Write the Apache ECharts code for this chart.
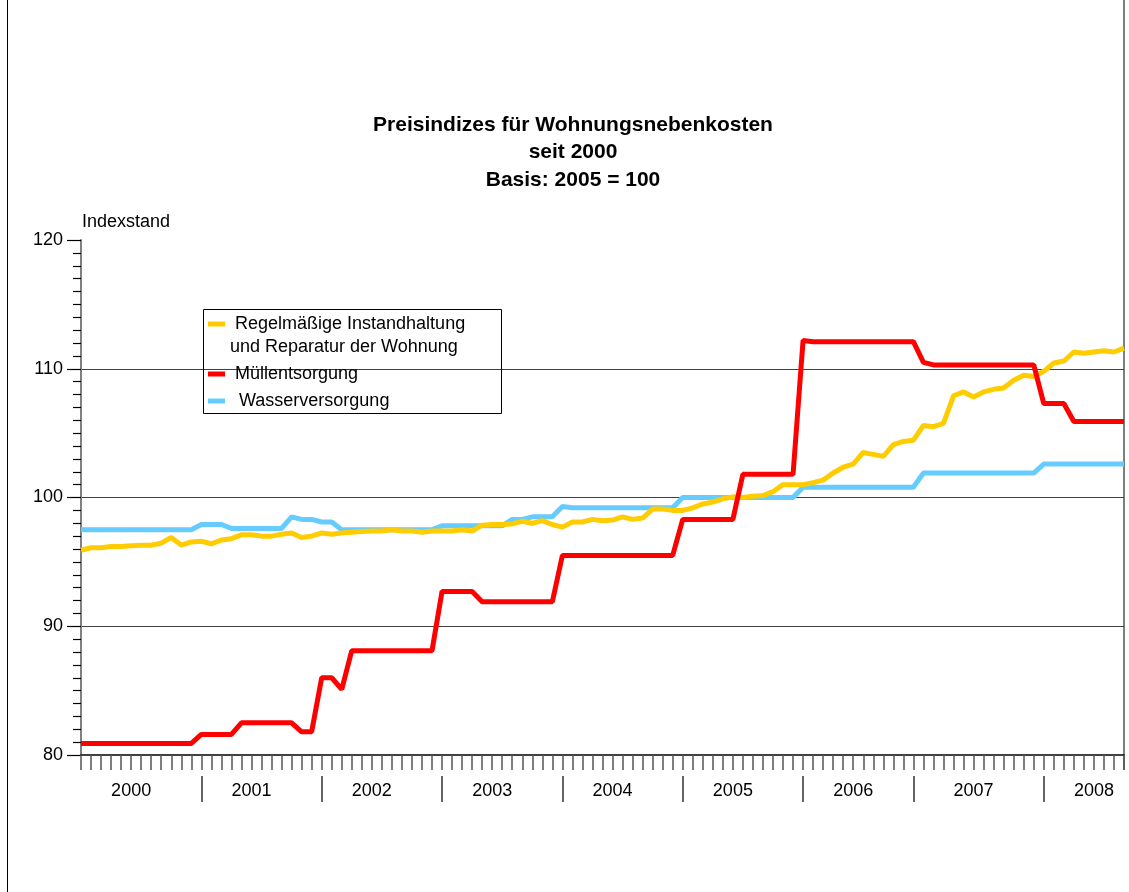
<!DOCTYPE html>
<html>
<head>
<meta charset="utf-8">
<script src="https://cdn.jsdelivr.net/npm/echarts@6/dist/echarts.min.js"></script>
<style>
  html, body { margin: 0; padding: 0; background: #fff; }
  #chart { width: 1129px; height: 892px; }
</style>
</head>
<body>
<div id="chart"></div>
<script>
"use strict";

const years = ['2000', '2001', '2002', '2003', '2004', '2005', '2006', '2007', '2008'];
const monthsInLast = 9;

// index of month where a year separator line is drawn (as in the original)
const yearSepIdx = [12, 24, 36, 48, 60, 72, 83, 96];

const yTicks = [80, 90, 100, 110, 120];

const seriesNames = [
    'Regelmäßige Instandhaltung und Reparatur der Wohnung',
    'Müllentsorgung',
    'Wasserversorgung'
];

const instandhaltung = [
    95.9, 96.1, 96.1, 96.2, 96.2, 96.25, 96.3, 96.3, 96.45, 96.9, 96.3, 96.55,
    96.6, 96.4, 96.7, 96.8, 97.1, 97.1, 97.0, 97.0, 97.15, 97.25, 96.9, 97.0,
    97.25, 97.15, 97.25, 97.3, 97.35, 97.4, 97.4, 97.5, 97.4, 97.4, 97.3, 97.4,
    97.4, 97.4, 97.5, 97.4, 97.85, 97.9, 97.9, 97.95, 98.15, 98.0, 98.2, 97.9,
    97.7, 98.1, 98.1, 98.3, 98.2, 98.25, 98.5, 98.3, 98.4, 99.1, 99.1, 99.0,
    99.0, 99.2, 99.5, 99.65, 99.9, 100.05, 100.0, 100.1, 100.15, 100.45, 101.0, 101.0,
    101.0, 101.15, 101.35, 101.9, 102.35, 102.6, 103.5, 103.35, 103.2, 104.1, 104.35, 104.45,
    105.6, 105.5, 105.75, 107.9, 108.2, 107.8, 108.2, 108.4, 108.5, 109.1, 109.5, 109.4,
    109.8, 110.45, 110.6, 111.3, 111.2, 111.3, 111.4, 111.3, 111.6
];

const muell = [
    80.9, 80.9, 80.9, 80.9, 80.9, 80.9, 80.9, 80.9, 80.9, 80.9, 80.9, 80.9,
    81.6, 81.6, 81.6, 81.6, 82.5, 82.5, 82.5, 82.5, 82.5, 82.5, 81.8, 81.8,
    86.0, 86.0, 85.1, 88.1, 88.1, 88.1, 88.1, 88.1, 88.1, 88.1, 88.1, 88.1,
    92.7, 92.7, 92.7, 92.7, 91.9, 91.9, 91.9, 91.9, 91.9, 91.9, 91.9, 91.9,
    95.5, 95.5, 95.5, 95.5, 95.5, 95.5, 95.5, 95.5, 95.5, 95.5, 95.5, 95.5,
    98.3, 98.3, 98.3, 98.3, 98.3, 98.3, 101.8, 101.8, 101.8, 101.8, 101.8, 101.8,
    112.2, 112.1, 112.1, 112.1, 112.1, 112.1, 112.1, 112.1, 112.1, 112.1, 112.1, 112.1,
    110.5, 110.3, 110.3, 110.3, 110.3, 110.3, 110.3, 110.3, 110.3, 110.3, 110.3, 110.3,
    107.3, 107.3, 107.3, 105.9, 105.9, 105.9, 105.9, 105.9, 105.9
];

const wasser = [
    97.5, 97.5, 97.5, 97.5, 97.5, 97.5, 97.5, 97.5, 97.5, 97.5, 97.5, 97.5,
    97.9, 97.9, 97.9, 97.6, 97.6, 97.6, 97.6, 97.6, 97.6, 98.5, 98.3, 98.3,
    98.1, 98.1, 97.5, 97.5, 97.5, 97.5, 97.5, 97.5, 97.5, 97.5, 97.5, 97.5,
    97.8, 97.8, 97.8, 97.8, 97.8, 97.8, 97.8, 98.3, 98.3, 98.5, 98.5, 98.5,
    99.3, 99.2, 99.2, 99.2, 99.2, 99.2, 99.2, 99.2, 99.2, 99.2, 99.2, 99.2,
    100.0, 100.0, 100.0, 100.0, 100.0, 100.0, 100.0, 100.0, 100.0, 100.0, 100.0, 100.0,
    100.8, 100.8, 100.8, 100.8, 100.8, 100.8, 100.8, 100.8, 100.8, 100.8, 100.8, 100.8,
    101.9, 101.9, 101.9, 101.9, 101.9, 101.9, 101.9, 101.9, 101.9, 101.9, 101.9, 101.9,
    102.6, 102.6, 102.6, 102.6, 102.6, 102.6, 102.6, 102.6, 102.6
];

const months = [];
years.forEach((y, yi) => {
    const n = yi === years.length - 1 ? monthsInLast : 12;
    for (let m = 1; m <= n; m++) months.push(y + '-' + (m < 10 ? '0' + m : m));
});

const chart = echarts.init(document.getElementById('chart'), null, { renderer: 'canvas' });
const font = 'Liberation Sans, Arial, sans-serif';

const option = {
    animation: false,
    backgroundColor: '#fff',
    textStyle: { fontFamily: font, color: '#000' },
    title: {
        text: 'Preisindizes für Wohnungsnebenkosten\nseit 2000\nBasis: 2005 = 100',
        left: 568,
        top: 106,
        textAlign: 'center',
        textStyle: { fontSize: 21, fontWeight: 'bold', lineHeight: 27.5, fontFamily: font, color: '#000' }
    },
    legend: {
        orient: 'vertical',
        left: 208,
        top: 289.5,
        padding: 0,
        itemGap: 4,
        itemWidth: 17,
        itemHeight: 5,
        icon: 'rect',
        data: [
            { name: seriesNames[0], textStyle: { padding: [23, 0, 0, 0] } },
            { name: seriesNames[1], textStyle: { padding: [0, 0, 0, 5] } },
            { name: seriesNames[2], textStyle: { padding: [0, 0, 0, 9] } }
        ],
        formatter: name => name === seriesNames[0]
            ? '{a|Regelmäßige Instandhaltung}\n{b|und Reparatur der Wohnung}'
            : name,
        textStyle: {
            fontSize: 18, lineHeight: 23, color: '#000', fontFamily: font,
            rich: {
                a: { fontSize: 18, lineHeight: 23, padding: [0, 0, 0, 5], fontFamily: font },
                b: { fontSize: 18, lineHeight: 23, fontFamily: font }
            }
        }
    },
    grid: { left: 81, right: 5, top: 240, bottom: 137, containLabel: false },
    xAxis: [
        {
            type: 'category',
            data: months,
            boundaryGap: false,
            axisLine: { lineStyle: { color: '#000', width: 1.5 } },
            axisTick: { interval: 0, length: 15, lineStyle: { color: '#555', width: 1.5 } },
            axisLabel: { show: false },
            splitLine: { show: false }
        },
        {
            type: 'category',
            data: months,
            boundaryGap: false,
            position: 'bottom',
            offset: 21,
            axisLine: { show: false },
            axisTick: {
                interval: (i) => yearSepIdx.includes(i),
                length: 26,
                lineStyle: { color: '#333', width: 1.5 }
            },
            axisLabel: {
                interval: (i) => i % 12 === 5,
                formatter: v => v.slice(0, 4),
                fontSize: 18,
                margin: 6,
                color: '#000',
                fontFamily: font
            },
            splitLine: { show: false }
        }
    ],
    yAxis: {
        type: 'value',
        min: yTicks[0],
        max: yTicks[yTicks.length - 1],
        interval: 10,
        name: 'Indexstand',
        nameLocation: 'end',
        nameGap: 18,
        nameTextStyle: { fontSize: 18, align: 'left', verticalAlign: 'middle', color: '#000', fontFamily: font, padding: [0, 0, 0, 1] },
        axisLine: { show: true, lineStyle: { color: '#808080', width: 2 } },
        axisTick: { show: true, length: 14, lineStyle: { color: '#000', width: 1.2 } },
        minorTick: { show: true, splitNumber: 10, length: 8, lineStyle: { color: '#000', width: 1.2 } },
        splitLine: {
            show: true,
            showMinLine: false,
            showMaxLine: false,
            lineStyle: { color: '#404040', width: 1.2 }
        },
        axisLabel: { fontSize: 18, margin: 18, color: '#000', fontFamily: font }
    },
    graphic: [
        { type: 'line', shape: { x1: 7.5, y1: 0, x2: 7.5, y2: 892 }, style: { stroke: '#000', lineWidth: 1 } },
        { type: 'line', shape: { x1: 1124, y1: 0, x2: 1124, y2: 770 }, style: { stroke: '#555', lineWidth: 1.5 } },
        { type: 'rect', shape: { x: 203.5, y: 309.5, width: 298, height: 104 }, style: { fill: 'none', stroke: '#000', lineWidth: 1 }, z: 10 }
    ],
    series: [
        {
            name: seriesNames[0],
            type: 'line',
            data: instandhaltung,
            showSymbol: false,
            z: 3,
            color: '#FFCC00',
            lineStyle: { width: 5, color: '#FFCC00' }
        },
        {
            name: seriesNames[1],
            type: 'line',
            data: muell,
            showSymbol: false,
            z: 4,
            color: '#FF0000',
            lineStyle: { width: 5, color: '#FF0000' }
        },
        {
            name: seriesNames[2],
            type: 'line',
            data: wasser,
            showSymbol: false,
            z: 2,
            color: '#66CCFF',
            lineStyle: { width: 5, color: '#66CCFF' }
        }
    ]
};

chart.setOption(option);
</script>
</body>
</html>
